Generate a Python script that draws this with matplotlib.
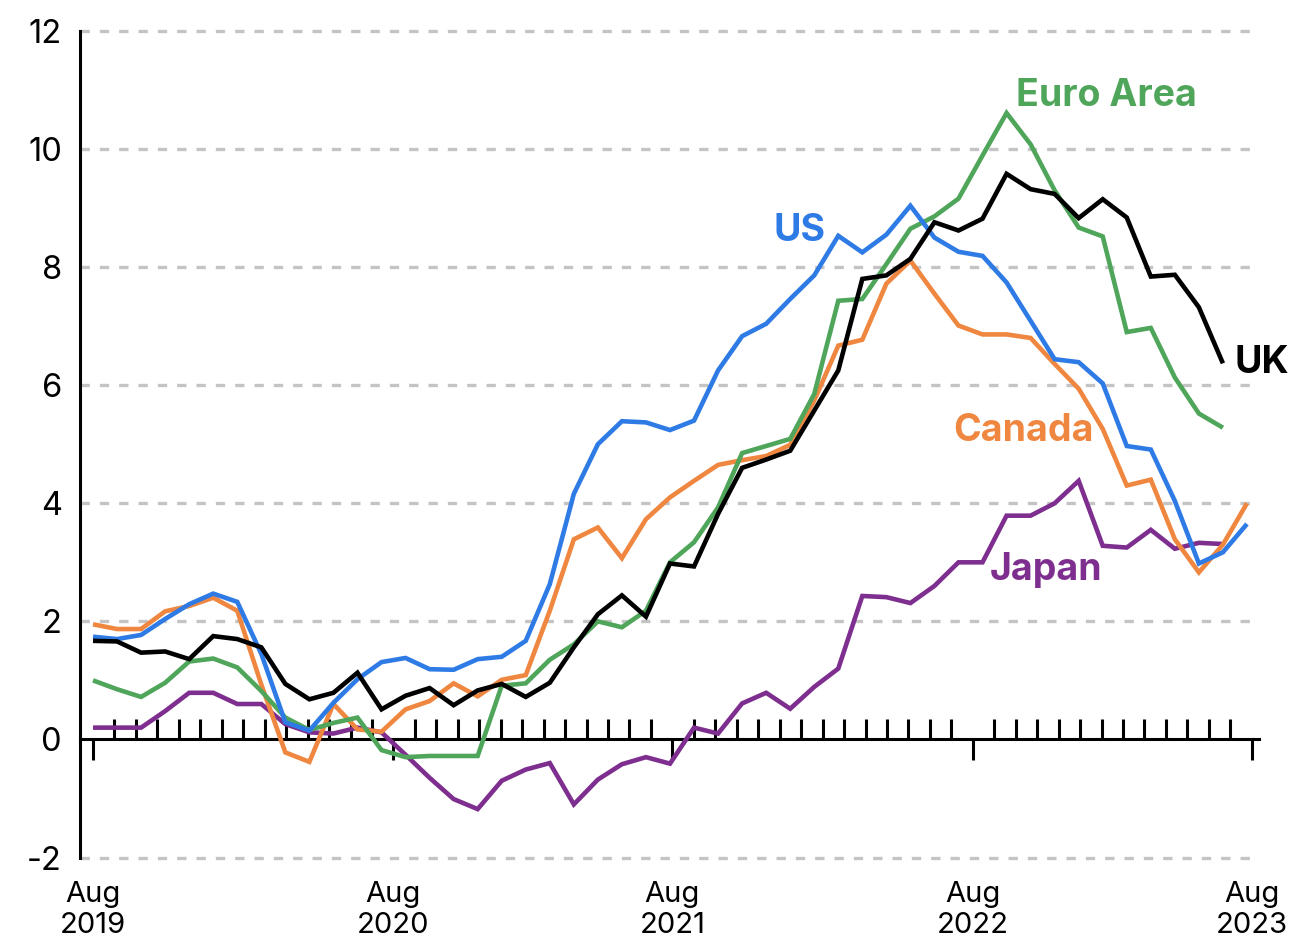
import matplotlib
matplotlib.use("Agg")
import matplotlib.pyplot as plt
import numpy as np

plt.rcParams['font.family'] = ['Inter', 'DejaVu Sans']
plt.rcParams['axes.unicode_minus'] = False

# monthly inflation rates (%), Aug 2019 onwards
uk = [1.67, 1.66, 1.47, 1.49, 1.36, 1.75, 1.70, 1.56, 0.94, 0.68, 0.79, 1.13,
      0.51, 0.74, 0.87, 0.58, 0.83, 0.94, 0.72, 0.96, 1.56, 2.12, 2.44, 2.08,
      2.98, 2.93, 3.82, 4.60, 4.74, 4.89, 5.57, 6.25, 7.80, 7.86, 8.14, 8.76,
      8.62, 8.82, 9.58, 9.32, 9.24, 8.83, 9.15, 8.84, 7.84, 7.87, 7.32, 6.37]
us = [1.74, 1.70, 1.77, 2.04, 2.29, 2.47, 2.33, 1.45, 0.29, 0.15, 0.62, 1.02,
      1.31, 1.38, 1.19, 1.18, 1.36, 1.40, 1.67, 2.63, 4.16, 5.00, 5.39, 5.37,
      5.24, 5.40, 6.25, 6.83, 7.04, 7.46, 7.86, 8.53, 8.25, 8.55, 9.04, 8.50,
      8.26, 8.19, 7.74, 7.09, 6.44, 6.39, 6.03, 4.97, 4.91, 4.04, 2.98, 3.17, 3.65]
canada = [1.95, 1.87, 1.87, 2.17, 2.26, 2.40, 2.18, 0.93, -0.22, -0.38, 0.60, 0.17,
          0.13, 0.51, 0.65, 0.95, 0.73, 1.01, 1.09, 2.18, 3.39, 3.59, 3.07, 3.73,
          4.10, 4.38, 4.65, 4.73, 4.80, 4.99, 5.74, 6.67, 6.77, 7.72, 8.11, 7.55,
          7.01, 6.86, 6.86, 6.80, 6.36, 5.94, 5.26, 4.30, 4.40, 3.39, 2.83, 3.30, 4.00]
euro = [1.00, 0.85, 0.72, 0.96, 1.32, 1.37, 1.22, 0.82, 0.37, 0.16, 0.28, 0.37,
        -0.18, -0.30, -0.28, -0.28, -0.28, 0.91, 0.95, 1.35, 1.61, 2.00, 1.90, 2.18,
        3.00, 3.34, 3.93, 4.85, 4.97, 5.09, 5.85, 7.43, 7.46, 8.05, 8.65, 8.86,
        9.16, 9.89, 10.61, 10.08, 9.30, 8.67, 8.52, 6.90, 6.97, 6.13, 5.52, 5.28]
japan = [0.20, 0.20, 0.20, 0.48, 0.79, 0.79, 0.60, 0.60, 0.26, 0.12, 0.10, 0.20,
         0.12, -0.26, -0.65, -1.01, -1.18, -0.70, -0.51, -0.40, -1.10, -0.68, -0.42, -0.30,
         -0.41, 0.20, 0.10, 0.61, 0.79, 0.52, 0.89, 1.20, 2.43, 2.41, 2.31, 2.60,
         3.00, 3.00, 3.79, 3.79, 4.00, 4.38, 3.28, 3.25, 3.55, 3.23, 3.33, 3.31]

series = [
    ('Japan', japan, '#7e2e8e'),
    ('Canada', canada, '#ef8740'),
    ('Euro Area', euro, '#4fa65b'),
    ('US', us, '#2f7be6'),
    ('UK', uk, '#000000'),
]
# label anchor (month index, value)
label_pos = {'Euro Area': (38.4, 10.9), 'US': (28.3, 8.62), 'UK': (47.5, 6.38),
             'Canada': (35.8, 5.23), 'Japan': (37.3, 2.87)}

year_labels = ['Aug\n2019', 'Aug\n2020', 'Aug\n2021', 'Aug\n2022', 'Aug\n2023']
yticks = [-2, 0, 2, 4, 6, 8, 10, 12]

fig = plt.figure(figsize=(12.91, 9.38), dpi=100)
ax = fig.add_axes([0.062, 0.0858, 0.9132, 0.8812])

for name, vals, col in series:
    ax.plot(np.arange(len(vals)), vals, color=col, lw=3.3, solid_joinstyle='miter',
            solid_capstyle='butt', zorder=3)
    lx, ly = label_pos[name]
    ax.text(lx, ly, name, color=col, fontsize=27, fontweight='bold',
            ha='left', va='center', zorder=4)

for v in yticks:
    if v != 0:
        ax.axhline(v, color='#c4c4c4', lw=2.4, ls=(0, (2.8, 3.0)), zorder=0, clip_on=False)

ax.set_xlim(-0.54, 48.5)
ax.set_ylim(-2, 12)

tick_grid = np.linspace(0, 48.2, 55)
ax.set_xticks(tick_grid, minor=True)
ax.set_xticks(tick_grid[[0, 14, 27, 41, 54]])
ax.set_xticklabels(year_labels)
ax.tick_params(axis='x', which='major', direction='out', length=15, width=2.2,
               pad=87, labelsize=21)
ax.tick_params(axis='x', which='minor', direction='in', length=14.5, width=2.2)
for lbl in ax.get_xticklabels():
    lbl.set_linespacing(0.88)

ax.set_yticks(yticks)
ax.set_yticklabels([str(v) for v in yticks])
ax.tick_params(axis='y', length=0, pad=13, labelsize=23.5)

ax.spines['top'].set_visible(False)
ax.spines['right'].set_visible(False)
ax.spines['bottom'].set_position(('data', 0))
ax.spines['bottom'].set_linewidth(2.2)
ax.spines['left'].set_linewidth(2.2)

fig.savefig('out.png', dpi=100)
